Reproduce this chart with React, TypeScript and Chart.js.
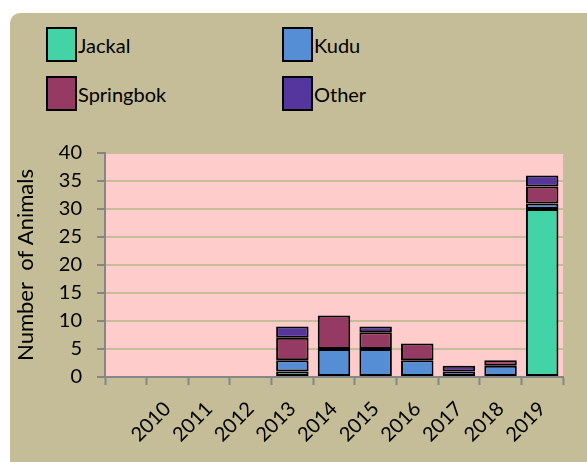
import React, { useEffect, useRef } from "react";
import { Chart, registerables } from "chart.js";

Chart.register(...registerables);

const categories = ["", "2010", "2011", "2012", "2013", "2014", "2015", "2016", "2017", "2018", "2019"];
const jackal = [null, null, null, null, 1, null, null, null, null, null, 30];
const kudu = [null, null, null, null, 2, 5, 5, 3, 1, 2, 1];
const springbok = [null, null, null, null, 4, 6, 3, 3, null, 1, 3];
const other = [null, null, null, null, 2, null, 1, null, 1, null, 2];
const yTicks = [0, 5, 10, 15, 20, 25, 30, 35, 40];

const seriesNames = ["Jackal", "Kudu", "Springbok", "Other"];
const seriesColors = ["#42D4A7", "#558ED5", "#953A63", "#55369E"];

const FONT = "Lato, 'Noto Sans', sans-serif";

export default function App() {
  const ref = useRef<HTMLCanvasElement | null>(null);

  useEffect(() => {
    if (!ref.current) return;
    const values = [jackal, kudu, springbok, other];
    const chart = new Chart(ref.current, {
      type: "bar",
      data: {
        labels: categories,
        datasets: seriesNames.map((name, i) => ({
          label: name,
          data: values[i],
          backgroundColor: seriesColors[i],
          borderColor: "#000000",
          borderWidth: 2,
          borderSkipped: false,
          barPercentage: 0.78,
          categoryPercentage: 1,
        })),
      },
      plugins: [
        {
          id: "plotBg",
          beforeDraw(c) {
            const { ctx, chartArea } = c;
            ctx.save();
            ctx.fillStyle = "#FFCCCC";
            ctx.fillRect(chartArea.left, chartArea.top, chartArea.right - chartArea.left, chartArea.bottom - chartArea.top);
            ctx.restore();
          },
        },
      ],
      options: {
        responsive: false,
        animation: false,
        layout: { padding: { top: 153, right: 24, left: 0, bottom: 0 } },
        plugins: {
          legend: { display: false },
          tooltip: { enabled: false },
        },
        scales: {
          x: {
            stacked: true,
            afterFit(scale: any) {
              scale.height = 85;
            },
            grid: {
              display: true,
              drawOnChartArea: false,
              offset: true,
              tickColor: "#868686",
              tickLength: 8,
              tickWidth: 2,
            },
            border: { color: "#868686", width: 2 },
            ticks: {
              color: "#000000",
              font: { family: FONT, size: 20 },
              maxRotation: 45,
              minRotation: 45,
              autoSkip: false,
              padding: 12,
            },
          },
          y: {
            stacked: true,
            min: 0,
            max: 40,
            afterFit(scale: any) {
              scale.width = 105;
            },
            afterBuildTicks(scale: any) {
              scale.ticks = yTicks.map((v) => ({ value: v }));
            },
            grid: {
              color: "#C4BD97",
              lineWidth: 2,
              tickColor: "#868686",
              tickLength: 8,
              tickWidth: 2,
            },
            border: { color: "#868686", width: 2 },
            ticks: {
              color: "#000000",
              font: { family: FONT, size: 20 },
              padding: 15,
            },
            title: {
              display: true,
              text: "Number  of Animals",
              color: "#000000",
              font: { family: FONT, size: 22 },
              padding: { top: 13, bottom: 0 },
            },
          },
        },
      },
    });
    return () => chart.destroy();
  }, []);

  const legendItems = [
    { name: seriesNames[0], color: seriesColors[0], left: 46, top: 27 },
    { name: seriesNames[1], color: seriesColors[1], left: 282, top: 27 },
    { name: seriesNames[2], color: seriesColors[2], left: 46, top: 76 },
    { name: seriesNames[3], color: seriesColors[3], left: 282, top: 76 },
  ];

  return (
    <div style={{ position: "fixed", left: 0, top: 0, width: 587, height: 462, background: "#FFFFFF", overflow: "hidden" }}>
      <div
        style={{
          position: "absolute",
          left: 10,
          top: 13,
          width: 600,
          height: 470,
          background: "#C4BD97",
          borderRadius: 10,
        }}
      />
      {legendItems.map((it) => (
        <div key={it.name} style={{ position: "absolute", left: it.left, top: it.top, height: 35, display: "flex", alignItems: "center" }}>
          <div style={{ width: 27, height: 31, background: it.color, border: "2px solid #000" }} />
          <span style={{ marginLeft: 1, fontFamily: FONT, fontSize: 20, color: "#000" }}>{it.name}</span>
        </div>
      ))}
      <canvas ref={ref} width={587} height={462} style={{ position: "absolute", left: 0, top: 0 }} />
    </div>
  );
}
